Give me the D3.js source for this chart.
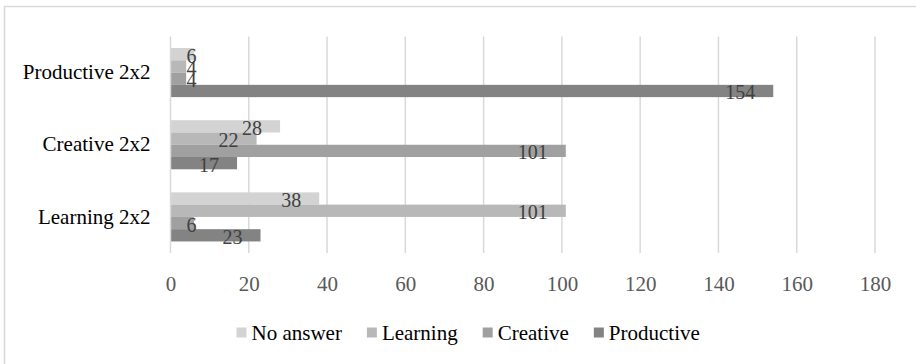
<!DOCTYPE html>
<html>
<head>
<meta charset="utf-8">
<script src="https://cdn.jsdelivr.net/npm/d3@7/dist/d3.min.js"></script>
<style>
  html, body { margin: 0; padding: 0; background: #fff; }
  svg { display: block; }
  text { font-family: 'Liberation Serif', serif; }
</style>
</head>
<body>
<svg id="chart" width="916" height="364"></svg>
<script>
// Responses per quadrant variant, one array per answer series
const categories = ["Productive 2x2", "Creative 2x2", "Learning 2x2"];
const seriesNames = ["No answer", "Learning", "Creative", "Productive"];
const noAnswer   = [6, 28, 38];
const learning   = [4, 22, 101];
const creative   = [4, 101, 6];
const productive = [154, 17, 23];
const xTicks = [0, 20, 40, 60, 80, 100, 120, 140, 160, 180];
const seriesColors = ["#d3d3d3", "#b8b8b8", "#a0a0a0", "#838383"];

const seriesValues = [noAnswer, learning, creative, productive];
const SERIF = "Liberation Serif";

const svg = d3.select("#chart");
const W = 916, H = 364;

// outer chart frame (open on the right and bottom edges)
svg.append("rect")
  .attr("x", 4.5).attr("y", 6.5)
  .attr("width", W + 20).attr("height", H + 20)
  .attr("fill", "#fff").attr("stroke", "#d9d9d9").attr("stroke-width", 1.5);

const plot = { left: 170.5, right: 875, top: 36.5, bottom: 253 };

const x = d3.scaleLinear().domain([0, 180]).range([plot.left, plot.right]);
const y = d3.scaleBand().domain(categories)
  .range([plot.top, plot.bottom]).paddingInner(0.32).paddingOuter(0.16);
const ySeries = d3.scaleBand().domain(seriesNames)
  .range([0, y.bandwidth()]).padding(0);

// vertical gridlines
svg.append("g").selectAll("line")
  .data(xTicks.filter(d => d > 0))
  .join("line")
  .attr("x1", d => x(d)).attr("x2", d => x(d))
  .attr("y1", plot.top).attr("y2", plot.bottom)
  .attr("stroke", "#d9d9d9").attr("stroke-width", 1.5);

// bars
const rows = [];
categories.forEach((c, ci) => {
  seriesNames.forEach((s, si) => {
    rows.push({ cat: c, series: s, si, value: seriesValues[si][ci] });
  });
});

svg.append("g").selectAll("rect")
  .data(rows)
  .join("rect")
  .attr("x", x(0))
  .attr("y", d => y(d.cat) + ySeries(d.series))
  .attr("width", d => x(d.value) - x(0))
  .attr("height", ySeries.bandwidth())
  .attr("fill", d => seriesColors[d.si]);

// category axis line
svg.append("line")
  .attr("x1", plot.left).attr("x2", plot.left)
  .attr("y1", plot.top).attr("y2", plot.bottom)
  .attr("stroke", "#d9d9d9").attr("stroke-width", 1.5);

// value labels at the inside end of each bar
const labels = svg.append("g").selectAll("text")
  .data(rows)
  .join("text")
  .attr("font-family", SERIF)
  .attr("font-size", 20)
  .attr("fill", "#404040")
  .attr("text-anchor", "end")
  .attr("y", d => y(d.cat) + ySeries(d.series) + ySeries.bandwidth() / 2 + 8.5)
  .text(d => d.value);
labels.each(function(d) {
  const w = this.getComputedTextLength();
  const xe = Math.max(x(d.value) - 18, x(0) + 16 + w);
  d3.select(this).attr("x", xe);
});

// x axis tick labels
const xAxis = d3.axisBottom(x).tickValues(xTicks).tickSize(0).tickPadding(0);
const gx = svg.append("g").attr("transform", `translate(0,${plot.bottom})`).call(xAxis)
  .attr("font-family", SERIF);
gx.select(".domain").remove();
gx.selectAll("text")
  .attr("font-family", SERIF)
  .attr("font-size", 21)
  .attr("fill", "#595959")
  .attr("dy", null)
  .attr("y", 38);

// category labels
const yAxis = d3.axisLeft(y).tickSize(0).tickPadding(0);
const gy = svg.append("g").attr("transform", `translate(${plot.left - 20},0)`).call(yAxis)
  .attr("font-family", SERIF);
gy.select(".domain").remove();
gy.selectAll("text")
  .attr("font-family", SERIF)
  .attr("font-size", 21)
  .attr("fill", "#000")
  .attr("x", 0)
  .attr("dy", "0.32em");

// legend
const legend = svg.append("g");
let lx = 236.5;
seriesNames.forEach((name, i) => {
  legend.append("rect")
    .attr("x", lx).attr("y", 327.5)
    .attr("width", 10).attr("height", 10)
    .attr("fill", seriesColors[i]);
  const t = legend.append("text")
    .attr("x", lx + 15).attr("y", 340)
    .attr("font-family", SERIF)
    .attr("font-size", 21).attr("fill", "#000")
    .text(name);
  lx += 15 + t.node().getComputedTextLength() + 25;
});
</script>
</body>
</html>
